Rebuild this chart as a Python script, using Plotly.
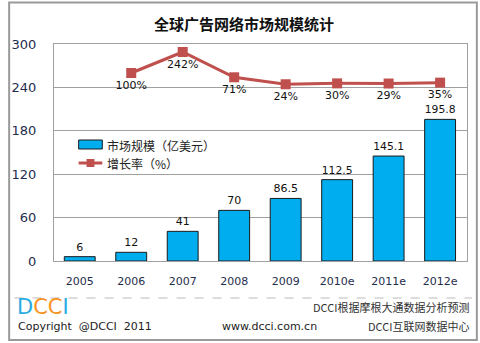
import plotly.graph_objects as go

years = ["2005", "2006", "2007", "2008", "2009", "2010e", "2011e", "2012e"]
market = [6, 12, 41, 70, 86.5, 112.5, 145.1, 195.8]
market_labels = ["6", "12", "41", "70", "86.5", "112.5", "145.1", "195.8"]
growth_years = ["2006", "2007", "2008", "2009", "2010e", "2011e", "2012e"]
growth = [100, 242, 71, 24, 30, 29, 35]
growth_labels = ["100%", "242%", "71%", "24%", "30%", "29%", "35%"]
y_ticks = [0, 60, 120, 180, 240, 300]
bar_name = "市场规模（亿美元）"
line_name = "增长率（%）"

num_font = "DejaVu Sans"
cjk = "Noto Sans CJK SC"
navy = "#1F2D4D"
bar_color = "#00AEEF"
line_color = "#C0504D"

fig = go.Figure()
fig.add_trace(go.Bar(
    x=years, y=market, name=bar_name,
    marker=dict(color=bar_color, line=dict(color="#1a1a1a", width=1)),
    width=0.6,
    text=market_labels, textposition="outside", cliponaxis=False,
    textfont=dict(family=num_font, size=11, color="#111"),
))
fig.add_trace(go.Scatter(
    x=growth_years, y=growth, name=line_name, yaxis="y2",
    mode="lines+markers+text",
    line=dict(color=line_color, width=3),
    marker=dict(symbol="square", size=10, color=line_color),
    text=growth_labels, textposition="bottom center",
    textfont=dict(family=num_font, size=11, color="#111"),
    cliponaxis=False,
))

fig.update_layout(
    width=480, height=343,
    margin=dict(l=48, r=13, t=44, b=82),
    paper_bgcolor="white", plot_bgcolor="white",
    showlegend=False,
    xaxis=dict(showgrid=False, showline=True, linecolor="#A0A0A0", linewidth=1,
               mirror=True, ticks="", tickfont=dict(family=num_font, size=11, color=navy),
               ticklabelstandoff=10),
    yaxis=dict(range=[0, 300], tickvals=y_ticks, showgrid=True, gridcolor="#A0A0A0",
               showline=True, linecolor="#A0A0A0", mirror=True, zeroline=False,
               tickfont=dict(family=num_font, size=13, color=navy), ticks="",
               ticklabelstandoff=14),
    yaxis2=dict(overlaying="y", range=[-1170, 296], visible=False),
    bargap=0.4,
)

def py(pix):
    return (343 - 82 - pix) / (343 - 44 - 82)
def px(pix):
    return (pix - 48) / (480 - 48 - 13)

fig.add_annotation(text="<b>全球广告网络市场规模统计</b>", x=px(241), y=py(24), xref="paper", yref="paper",
                   xanchor="center", yanchor="middle",
                   showarrow=False, font=dict(family=cjk, size=15, color="#111"))

# Custom legend
fig.add_shape(type="rect", xref="paper", yref="paper", x0=px(73), x1=px(97), y0=py(149), y1=py(140),
              fillcolor=bar_color, line=dict(color="#1a1a1a", width=1))
fig.add_shape(type="line", xref="paper", yref="paper", x0=px(73), x1=px(97), y0=py(163), y1=py(163),
              line=dict(color=line_color, width=3))
fig.add_shape(type="rect", xref="paper", yref="paper", x0=px(81), x1=px(89), y0=py(167), y1=py(159),
              fillcolor=line_color, line=dict(color=line_color, width=0))
fig.add_annotation(text=bar_name, x=px(100), y=py(145), xref="paper", yref="paper",
                   xanchor="left", yanchor="middle", showarrow=False,
                   font=dict(family=cjk, size=12, color="#222"))
fig.add_annotation(text=line_name, x=px(100), y=py(163), xref="paper", yref="paper",
                   xanchor="left", yanchor="middle", showarrow=False,
                   font=dict(family=cjk, size=12, color="#222"))

# Footer
fig.add_shape(type="line", xref="paper", yref="paper", x0=px(8), x1=px(472), y0=py(298), y1=py(298),
              line=dict(color="#BBBBBB", width=1, dash="dash"))
fig.add_shape(type="rect", xref="paper", yref="paper", x0=px(2.5), x1=px(477), y0=py(2.5), y1=py(340),
              line=dict(color="#9A9A9A", width=2))
fig.add_annotation(text="<span style='color:#29ABE2'>D</span><span style='color:#F7931E'>CC</span><span style='color:#29ABE2'>I</span>",
                   x=px(8), y=py(307), xref="paper", yref="paper", xanchor="left", yanchor="middle",
                   showarrow=False, font=dict(family="DejaVu Sans ExtraLight, DejaVu Sans", size=21))
fig.add_annotation(text="Copyright  @DCCI  2011", x=px(9), y=py(326), xref="paper", yref="paper",
                   xanchor="left", yanchor="middle", showarrow=False,
                   font=dict(family=num_font, size=11, color="#222"))
fig.add_annotation(text="www.dcci.com.cn", x=px(267), y=py(326), xref="paper", yref="paper",
                   xanchor="center", yanchor="middle", showarrow=False,
                   font=dict(family=num_font, size=11, color="#222"))
fig.add_annotation(text="DCCI根据摩根大通数据分析预测", x=px(471), y=py(307), xref="paper", yref="paper",
                   xanchor="right", yanchor="middle", showarrow=False,
                   font=dict(family=cjk, size=11, color="#333"))
fig.add_annotation(text="DCCI互联网数据中心", x=px(471), y=py(326), xref="paper", yref="paper",
                   xanchor="right", yanchor="middle", showarrow=False,
                   font=dict(family=cjk, size=11, color="#333"))

fig.write_html("out.html")
